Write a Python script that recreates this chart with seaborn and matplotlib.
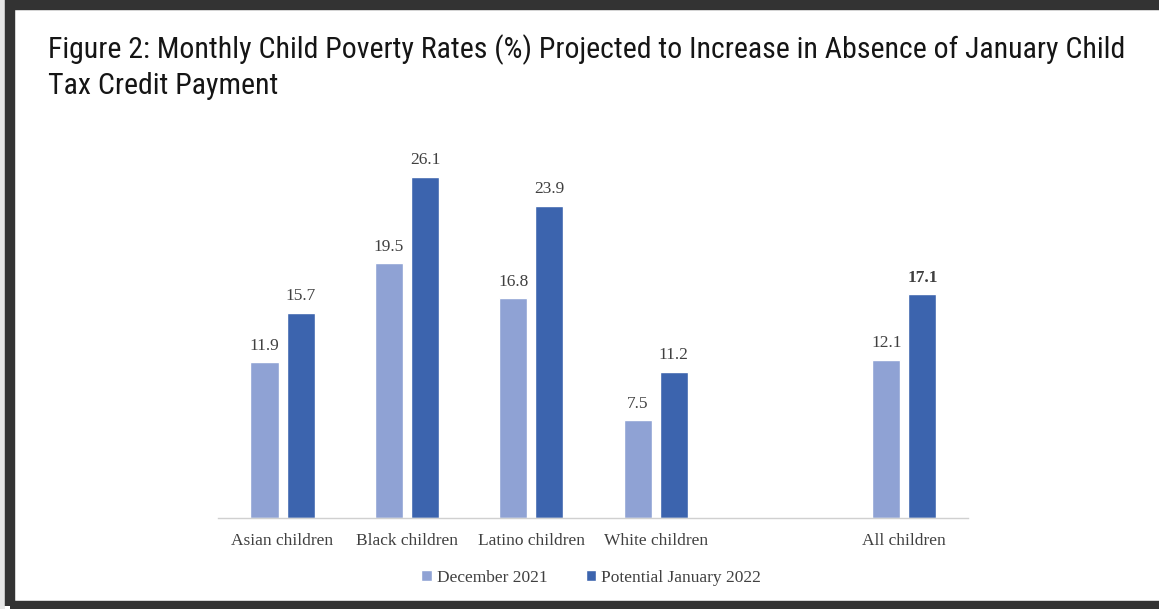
import pandas as pd
import seaborn as sns
import matplotlib.pyplot as plt
from matplotlib import font_manager
from matplotlib.patches import Rectangle

# data
groups = ["Asian children", "Black children", "Latino children", "White children", "All children"]
dec_2021 = [11.9, 19.5, 16.8, 7.5, 12.1]
jan_2022 = [15.7, 26.1, 23.9, 11.2, 17.1]
series = ["December 2021", "Potential January 2022"]
order = ["Asian children", "Black children", "Latino children", "White children", " ", "All children"]
title1 = "Figure 2: Monthly Child Poverty Rates (%) Projected to Increase in Absence of January Child"
title2 = "Tax Credit Payment"

df = pd.DataFrame({
    "group": groups * 2,
    "rate": dec_2021 + jan_2022,
    "series": [series[0]] * len(groups) + [series[1]] * len(groups),
})

# look for a narrow sans font, else fall back to Roboto
names = {f.name for f in font_manager.fontManager.ttflist}
title_font = "Roboto"
for cand in ["Roboto Condensed", "Liberation Sans Narrow", "Open Sans Condensed", "Noto Sans Condensed"]:
    if cand in names:
        title_font = cand
        break

sns.set_style("white")
plt.rcParams["font.family"] = ["Liberation Serif", "DejaVu Serif"]

fig = plt.figure(figsize=(11.59, 6.09), dpi=100)
ax = fig.add_axes([0.188, 0.1494, 0.647, 0.644])

colors = ["#8FA2D4", "#3C64AE"]
sns.barplot(data=df, x="group", y="rate", hue="series", order=order,
            hue_order=series, palette=colors, width=0.58, gap=0.22,
            saturation=1, ax=ax, legend=True)

grey = "#404040"
for i, cont in enumerate(ax.containers):
    labels = [f"{v:.1f}" for v in cont.datavalues]
    txts = ax.bar_label(cont, labels=labels, padding=6, fontsize=12.5, color=grey)
    # last one (All children, January) is bold in the original
    if i == 1:
        txts[-1].set_fontweight("bold")

ax.set_ylim(0, 30)
ax.set_xlim(-0.52, 5.51)
ax.set_yticks([])
ax.set_xlabel("")
ax.set_ylabel("")
ax.set_xticks([0, 1, 2, 3, 5])
ax.set_xticklabels(groups)
ax.tick_params(axis="x", length=0, labelsize=12.5, labelcolor=grey, pad=11)
for s in ["top", "right", "left"]:
    ax.spines[s].set_visible(False)
ax.spines["bottom"].set_color("#d0d0d0")
ax.spines["bottom"].set_linewidth(1)

handles, labs = ax.get_legend_handles_labels()
ax.legend_.remove()
fig.legend(handles, labs, loc="center", bbox_to_anchor=(0.51, 0.051), ncol=2,
           frameon=False, fontsize=12.5, labelcolor=grey, handlelength=0.6,
           handleheight=0.6, handletextpad=0.3, columnspacing=2.2)

# title: size it so the first line spans the same width as the original
renderer = fig.canvas.get_renderer()
t1 = fig.text(0.041, 0.943, title1, family=title_font, fontsize=24, color="#151515",
              va="top", ha="left")
w = t1.get_window_extent(renderer).width
size = 24 * 1079 / w
t1.set_fontsize(size)
fig.text(0.041, 0.943 - 0.062, title2, family=title_font, fontsize=size, color="#151515",
         va="top", ha="left")

# dark frame around the figure
fig.patches.append(Rectangle((10 / 1159, 3 / 609), 1152 / 1159, 601 / 609,
                             transform=fig.transFigure, fill=False,
                             edgecolor="#333333", linewidth=7.5, zorder=10))
fig.patches.append(Rectangle((0, 0), 5 / 1159, 1, transform=fig.transFigure,
                             facecolor="#e6e6e6", edgecolor="none", zorder=9))

fig.savefig("out.png", dpi=100)
